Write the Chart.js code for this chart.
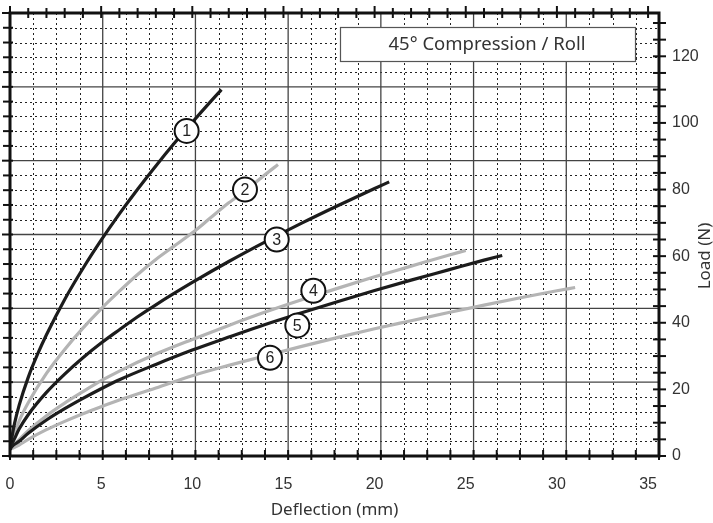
<!DOCTYPE html>
<html>
<head>
<meta charset="utf-8">
<script src="https://cdn.jsdelivr.net/npm/chart.js@4.4.1/dist/chart.umd.min.js"></script>
<style>
  html, body { margin: 0; padding: 0; background: #fff; }
  #wrap { width: 713px; height: 523px; }
</style>
</head>
<body>
<div id="wrap"><canvas id="chart" width="713" height="523"></canvas></div>
<script>
// axis ranges (label scale, grid is split separately)
const XMAX = 35.6;
const YMAX = 133;
const xTickStep = 5;
const yTickStep = 20;
const chartTitle = '45\u00b0 Compression / Roll';

// curves: deflection (mm) / load (N)
const curve1X = [0, 0.1, 0.25, 0.5, 1, 1.5, 2, 3, 4, 5, 6, 7, 8, 9, 10, 11, 11.6];
const curve1Y = [2, 5.5, 9.8, 15.2, 23.6, 30.4, 36.4, 47, 56.3, 64.8, 72.7, 80.1, 87.1, 93.8, 100.2, 106.4, 110];
const curve2X = [0, 0.1, 0.25, 0.5, 1, 2, 3, 4, 5, 6, 7, 8, 9, 10, 11, 12, 13, 14, 14.7];
const curve2Y = [2, 4, 6.7, 10.5, 16, 24.8, 32, 38.4, 44.2, 49.5, 54.5, 59, 63, 67, 71.5, 76, 80, 84.5, 87.5];
const curve3X = [0, 0.1, 0.25, 0.5, 1, 2, 3, 4, 5, 6, 7, 8, 10, 12, 14, 16, 18, 20, 20.8];
const curve3Y = [2, 3.5, 5.2, 8.1, 12.4, 19.1, 24.6, 29.5, 33.9, 37.9, 41.8, 45.4, 52.1, 58.4, 64.3, 69.9, 75.2, 80.3, 82.3];
const curve4X = [0, 0.1, 0.5, 1, 2, 3, 4, 5, 6, 8, 10, 12, 14, 16, 18, 20, 22, 24, 25];
const curve4Y = [2, 2.9, 4.9, 7.6, 12.1, 15.9, 19.3, 22.6, 25.5, 30.6, 35, 39.2, 43.2, 46.9, 50.4, 53.8, 57, 60.2, 61.7];
const curve5X = [0, 0.1, 0.5, 1, 2, 3, 4, 5, 6, 8, 10, 12, 14, 16, 18, 20, 22, 24, 26, 27];
const curve5Y = [2, 2.8, 4.4, 6.8, 10.8, 14.2, 17.3, 20.2, 22.9, 27.5, 31.8, 35.7, 39.5, 43, 46.4, 49.7, 52.8, 55.8, 58.8, 60.2];
const curve6X = [0, 0.5, 1, 2, 3, 4, 5, 6, 8, 10, 12, 14, 16, 18, 20, 22, 24, 26, 28, 30, 31];
const curve6Y = [2, 3.3, 5, 7.9, 10.4, 12.7, 14.8, 16.8, 20.4, 24.1, 27.2, 30.1, 32.9, 35.6, 38.2, 40.6, 43, 45.3, 47.5, 49.6, 50.6];

// circled curve numbers
const markText = ['1', '2', '3', '4', '5', '6'];
const markX = [9.69, 12.89, 14.63, 16.64, 15.76, 14.26];
const markY = [97.6, 80, 65, 49.6, 39.2, 29.5];

const BLACK = '#1c1c1c';
const GRAY = '#b4b4b4';

function pts(xs, ys) {
  return xs.map((x, i) => ({ x: x, y: ys[i] }));
}
function curve(xs, ys, color, order) {
  return {
    data: pts(xs, ys),
    borderColor: color,
    borderWidth: 3.2,
    pointRadius: 0,
    fill: false,
    cubicInterpolationMode: 'monotone',
    order: order
  };
}

// grid, frame, ticks, title box and circled numbers
const decor = {
  id: 'decor',
  beforeDatasetsDraw(chart) {
    const ctx = chart.ctx;
    const a = chart.chartArea;
    const w = a.right - a.left, h = a.bottom - a.top;
    ctx.save();
    // minor dotted grid
    ctx.strokeStyle = '#222';
    ctx.lineWidth = 1;
    ctx.setLineDash([2, 3]);
    for (let i = 1; i < 28; i++) {
      if (i % 4 === 0) continue;
      const x = Math.round(a.left + i * w / 28) + 0.5;
      ctx.beginPath(); ctx.moveTo(x, a.top); ctx.lineTo(x, a.bottom); ctx.stroke();
    }
    for (let i = 1; i < 30; i++) {
      if (i % 5 === 0) continue;
      const y = Math.round(a.top + i * h / 30) + 0.5;
      ctx.beginPath(); ctx.moveTo(a.left, y); ctx.lineTo(a.right, y); ctx.stroke();
    }
    // major solid grid
    ctx.setLineDash([]);
    ctx.strokeStyle = '#444';
    ctx.lineWidth = 1.3;
    for (let i = 4; i < 28; i += 4) {
      const x = a.left + i * w / 28;
      ctx.beginPath(); ctx.moveTo(x, a.top); ctx.lineTo(x, a.bottom); ctx.stroke();
    }
    for (let i = 5; i < 30; i += 5) {
      const y = a.top + i * h / 30;
      ctx.beginPath(); ctx.moveTo(a.left, y); ctx.lineTo(a.right, y); ctx.stroke();
    }
    ctx.restore();
  },
  afterDatasetsDraw(chart) {
    const ctx = chart.ctx;
    const a = chart.chartArea;
    const xs = chart.scales.x, ys = chart.scales.y;
    const w = a.right - a.left, h = a.bottom - a.top;
    ctx.save();
    ctx.strokeStyle = '#111';
    // ticks
    ctx.lineWidth = 2;
    for (let v = 0; v <= 35; v++) {   // top, every mm
      const x = xs.getPixelForValue(v);
      const big = v % 5 === 0;
      ctx.beginPath(); ctx.moveTo(x, a.top - (big ? 7 : 5)); ctx.lineTo(x, a.top + 5); ctx.stroke();
    }
    for (let v = 0; v <= 130; v += 5) { // right, every 5 N
      const y = ys.getPixelForValue(v);
      ctx.beginPath(); ctx.moveTo(a.right - 6, y); ctx.lineTo(a.right + 7, y); ctx.stroke();
    }
    for (let i = 0; i <= 30; i++) {     // left, on grid
      const y = a.top + i * h / 30;
      const big = i % 5 === 0;
      ctx.beginPath(); ctx.moveTo(a.left - (big ? 8 : 7), y); ctx.lineTo(a.left + 3, y); ctx.stroke();
    }
    for (let i = 0; i <= 28; i++) {     // bottom, on grid
      const x = a.left + i * w / 28;
      ctx.beginPath(); ctx.moveTo(x, a.bottom - 6); ctx.lineTo(x, a.bottom + 4); ctx.stroke();
    }
    // frame
    ctx.lineWidth = 3;
    ctx.strokeStyle = '#111';
    ctx.strokeRect(a.left, a.top, w, h);

    // title box
    ctx.fillStyle = '#fff';
    ctx.fillRect(340, 27, 296, 35);
    ctx.lineWidth = 1.2;
    ctx.strokeStyle = '#555';
    ctx.strokeRect(340.5, 27.5, 295, 34);
    ctx.fillStyle = '#333';
    ctx.font = '18.5px "Noto Sans"';
    ctx.textAlign = 'center';
    ctx.textBaseline = 'middle';
    ctx.fillText(chartTitle, 487, 45);

    // circled numbers
    ctx.font = '16px "Liberation Sans"';
    for (let i = 0; i < markText.length; i++) {
      const x = xs.getPixelForValue(markX[i]);
      const y = ys.getPixelForValue(markY[i]);
      ctx.beginPath();
      ctx.arc(x, y, 12, 0, Math.PI * 2);
      ctx.fillStyle = '#fff';
      ctx.fill();
      ctx.lineWidth = 2;
      ctx.strokeStyle = '#111';
      ctx.stroke();
      ctx.fillStyle = '#222';
      ctx.fillText(markText[i], x, y + 1);
    }

    // right axis title
    ctx.translate(705, 256);
    ctx.rotate(-Math.PI / 2);
    ctx.font = '17px "Noto Sans"';
    ctx.fillStyle = '#333';
    ctx.fillText('Load (N)', 0, 0);
    ctx.restore();
  }
};

new Chart(document.getElementById('chart'), {
  type: 'line',
  data: {
    datasets: [
      curve(curve1X, curve1Y, BLACK, 0),
      curve(curve2X, curve2Y, GRAY, 1),
      curve(curve3X, curve3Y, BLACK, 0),
      curve(curve4X, curve4Y, GRAY, 1),
      curve(curve5X, curve5Y, BLACK, 0),
      curve(curve6X, curve6Y, GRAY, 1)
    ]
  },
  options: {
    responsive: false,
    animation: false,
    layout: { padding: { left: 10, top: 13, right: 0, bottom: 0 } },
    plugins: { legend: { display: false }, tooltip: { enabled: false } },
    scales: {
      x: {
        type: 'linear',
        position: 'bottom',
        min: 0,
        max: XMAX,
        grid: { display: false, drawTicks: false },
        border: { display: false },
        ticks: {
          stepSize: xTickStep,
          includeBounds: false,
          maxRotation: 0,
          padding: 19,
          color: '#333',
          font: { family: 'Liberation Sans', size: 16 }
        },
        title: {
          display: true,
          text: 'Deflection (mm)',
          color: '#333',
          font: { family: 'Noto Sans', size: 17 },
          padding: { top: 2, bottom: 3 }
        },
        afterFit(s) { s.height = 67; s.paddingLeft = 0; s.paddingRight = 0; }
      },
      y: {
        type: 'linear',
        position: 'right',
        min: 0,
        max: YMAX,
        grid: { display: false, drawTicks: false },
        border: { display: false },
        ticks: {
          stepSize: yTickStep,
          includeBounds: false,
          padding: 13,
          color: '#333',
          font: { family: 'Liberation Sans', size: 16 }
        },
        afterFit(s) { s.width = 54; s.paddingTop = 0; s.paddingBottom = 0; }
      }
    }
  },
  plugins: [decor]
});
</script>
</body>
</html>
